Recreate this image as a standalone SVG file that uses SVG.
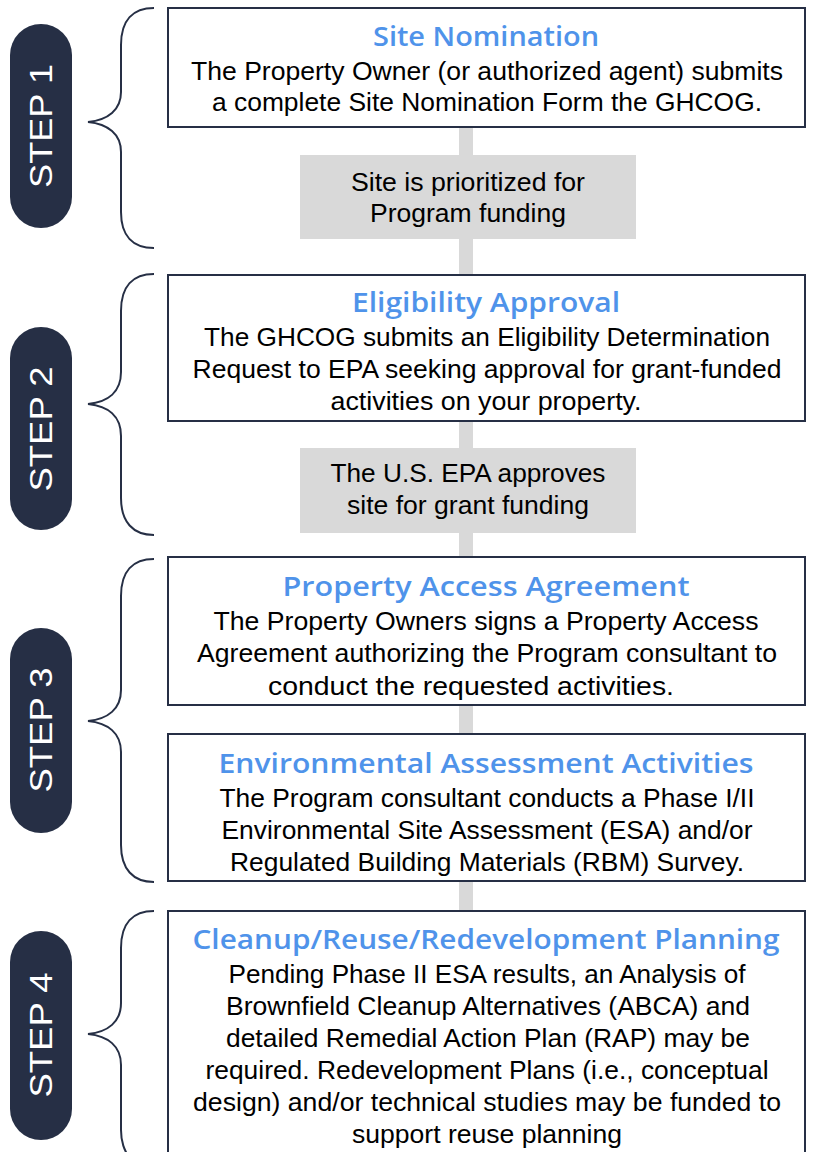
<svg xmlns="http://www.w3.org/2000/svg" width="813" height="1152" viewBox="0 0 813 1152">
<style>
.box{fill:#fff;stroke:#262f45;stroke-width:2}
.gbox{fill:#d9d9d9}
.pill{fill:#262f45}
.brace{fill:none;stroke:#262f45;stroke-width:2}
.title{font-family:"Open Sans","Noto Sans",sans-serif;font-size:27px;font-weight:600;fill:#4f93ea;text-anchor:middle}
.body{font-family:"Liberation Sans",Arial,sans-serif;font-size:26px;fill:#000;text-anchor:middle}
.step{font-family:"Liberation Sans",Arial,sans-serif;font-size:31px;fill:#fff;text-anchor:middle}
</style>
<rect width="813" height="1152" fill="#fff"/>
<g id="connectors">
<rect x="459" y="127" width="14" height="784" fill="#d9d9d9"/>
</g>
<g id="braces">
<path class="brace" d="M154,8 C133,8 121,20 121,45 L121,92 C121,110 108,120 88,122 C108,124 121,134 121,152 L121,212 C121,236 133,248 154,248"/>
<path class="brace" d="M154,274 C133,274 121,286 121,311 L121,372 C121,392 108,402 88,404 C108,406 121,416 121,436 L121,498 C121,522 133,535 154,535"/>
<path class="brace" d="M154,559 C133,559 121,571 121,596 L121,690 C121,709 108,719 88,721 C108,723 121,733 121,752 L121,845 C121,869 133,882 154,882"/>
<path class="brace" d="M154,911 C133,911 121,923 121,948 L121,1003 C121,1022 108,1032 88,1034 C108,1036 121,1046 121,1065 L121,1130 C121,1145 126,1152 130,1160"/>
</g>
<g id="step1"><rect class="pill" x="10" y="24" width="62" height="204" rx="31"/><text class="step" transform="translate(52,126) rotate(-90)" textLength="124" lengthAdjust="spacingAndGlyphs">STEP 1</text></g>
<g id="step2"><rect class="pill" x="10" y="327" width="62" height="203" rx="31"/><text class="step" transform="translate(52,429) rotate(-90)" textLength="125" lengthAdjust="spacingAndGlyphs">STEP 2</text></g>
<g id="step3"><rect class="pill" x="10" y="628" width="62" height="205" rx="31"/><text class="step" transform="translate(52,730) rotate(-90)" textLength="125" lengthAdjust="spacingAndGlyphs">STEP 3</text></g>
<g id="step4"><rect class="pill" x="10" y="931" width="62" height="209" rx="31"/><text class="step" transform="translate(52,1035) rotate(-90)" textLength="125" lengthAdjust="spacingAndGlyphs">STEP 4</text></g>
<g id="site-nomination">
<rect class="box" x="168" y="8" width="637" height="119"/>
<text class="title" x="486" y="46" textLength="226" lengthAdjust="spacingAndGlyphs">Site Nomination</text>
<text class="body" x="487" y="80" textLength="592" lengthAdjust="spacingAndGlyphs">The Property Owner (or authorized agent) submits</text>
<text class="body" x="487" y="111" textLength="550" lengthAdjust="spacingAndGlyphs">a complete Site Nomination Form the GHCOG.</text>
</g>
<g id="prioritized">
<rect class="gbox" x="300" y="155" width="336" height="84"/>
<text class="body" x="468" y="191" textLength="234" lengthAdjust="spacingAndGlyphs">Site is prioritized for</text>
<text class="body" x="468" y="222" textLength="196" lengthAdjust="spacingAndGlyphs">Program funding</text>
</g>
<g id="eligibility-approval">
<rect class="box" x="168" y="275" width="637" height="146"/>
<text class="title" x="486" y="312" textLength="268" lengthAdjust="spacingAndGlyphs">Eligibility Approval</text>
<text class="body" x="487" y="346" textLength="566" lengthAdjust="spacingAndGlyphs">The GHCOG submits an Eligibility Determination</text>
<text class="body" x="487" y="378" textLength="589" lengthAdjust="spacingAndGlyphs">Request to EPA seeking approval for grant-funded</text>
<text class="body" x="486" y="410" textLength="311" lengthAdjust="spacingAndGlyphs">activities on your property.</text>
</g>
<g id="epa-approves">
<rect class="gbox" x="300" y="448" width="336" height="85"/>
<text class="body" x="468" y="482" textLength="275" lengthAdjust="spacingAndGlyphs">The U.S. EPA approves</text>
<text class="body" x="468" y="514" textLength="242" lengthAdjust="spacingAndGlyphs">site for grant funding</text>
</g>
<g id="property-access">
<rect class="box" x="168" y="557" width="637" height="148"/>
<text class="title" x="486" y="596" textLength="407" lengthAdjust="spacingAndGlyphs">Property Access Agreement</text>
<text class="body" x="486" y="630" textLength="545" lengthAdjust="spacingAndGlyphs">The Property Owners signs a Property Access</text>
<text class="body" x="487" y="662" textLength="580" lengthAdjust="spacingAndGlyphs">Agreement authorizing the Program consultant to</text>
<text class="body" x="471" y="695" textLength="406" lengthAdjust="spacingAndGlyphs">conduct the requested activities.</text>
</g>
<g id="environmental-assessment">
<rect class="box" x="168" y="734" width="637" height="147"/>
<text class="title" x="486" y="773" textLength="535" lengthAdjust="spacingAndGlyphs">Environmental Assessment Activities</text>
<text class="body" x="487" y="807" textLength="535" lengthAdjust="spacingAndGlyphs">The Program consultant conducts a Phase I/II</text>
<text class="body" x="487" y="839" textLength="531" lengthAdjust="spacingAndGlyphs">Environmental Site Assessment (ESA) and/or</text>
<text class="body" x="487" y="871" textLength="514" lengthAdjust="spacingAndGlyphs">Regulated Building Materials (RBM) Survey.</text>
</g>
<g id="cleanup-planning">
<rect class="box" x="168" y="911" width="637" height="250"/>
<text class="title" x="486" y="949" textLength="587" lengthAdjust="spacingAndGlyphs">Cleanup/Reuse/Redevelopment Planning</text>
<text class="body" x="487" y="983" textLength="517" lengthAdjust="spacingAndGlyphs">Pending Phase II ESA results, an Analysis of</text>
<text class="body" x="488" y="1015" textLength="524" lengthAdjust="spacingAndGlyphs">Brownfield Cleanup Alternatives (ABCA) and</text>
<text class="body" x="488" y="1047" textLength="524" lengthAdjust="spacingAndGlyphs">detailed Remedial Action Plan (RAP) may be</text>
<text class="body" x="487" y="1079" textLength="563" lengthAdjust="spacingAndGlyphs">required. Redevelopment Plans (i.e., conceptual</text>
<text class="body" x="487" y="1111" textLength="588" lengthAdjust="spacingAndGlyphs">design) and/or technical studies may be funded to</text>
<text class="body" x="487" y="1143" textLength="270" lengthAdjust="spacingAndGlyphs">support reuse planning</text>
</g>
</svg>
